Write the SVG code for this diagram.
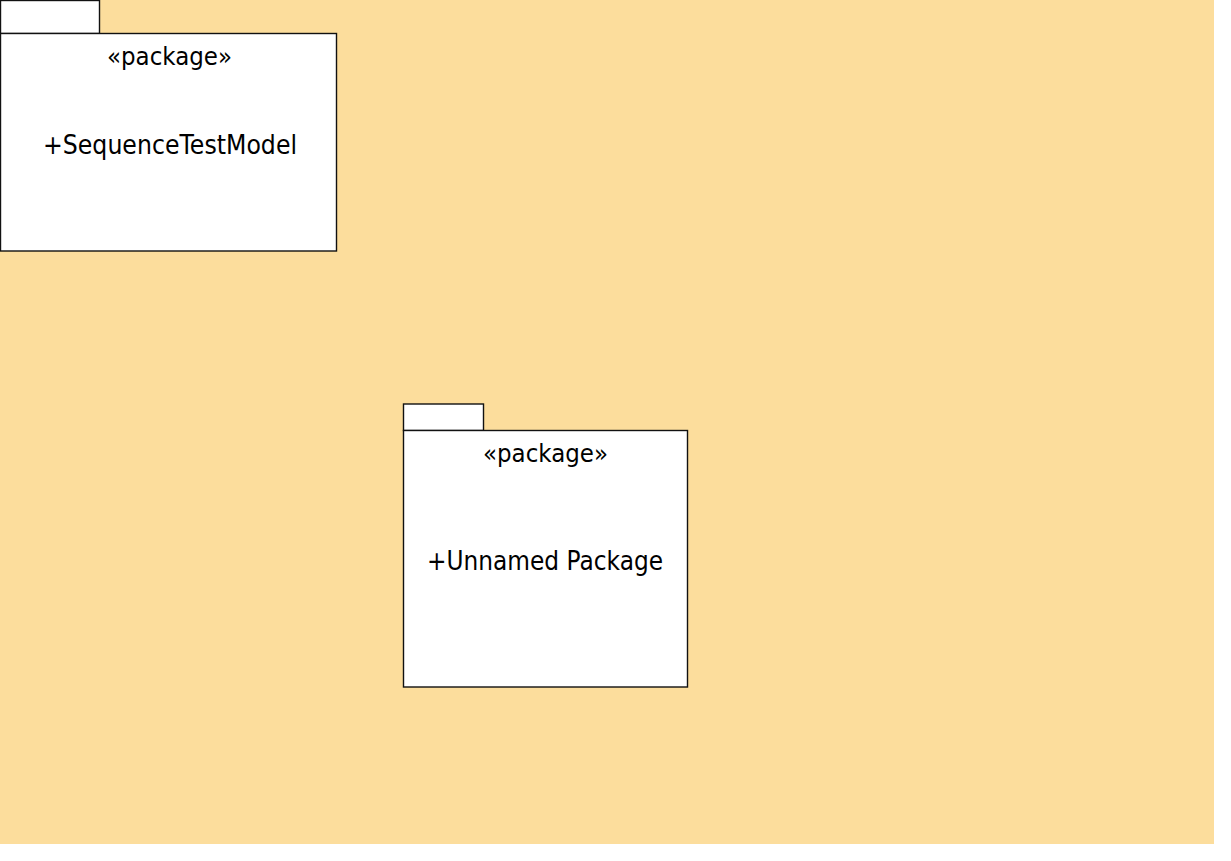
<svg xmlns="http://www.w3.org/2000/svg" width="1231" height="861" viewBox="0 0 1231 861">
<style>
.shape{fill:#ffffff;stroke:#111111;stroke-width:1.4}
.st{font-family:"DejaVu Sans","Liberation Sans",sans-serif;font-size:24px;fill:#000;text-anchor:middle}
.nm{font-family:"DejaVu Sans","Liberation Sans",sans-serif;font-size:26px;fill:#000;text-anchor:middle}
</style>
<rect x="0" y="0" width="1231" height="861" fill="#ffffff"/>
<rect x="0" y="0" width="1214" height="844" fill="#FCDD9C"/>
<g id="connectors"></g>
<g id="pkg-sequencetestmodel">
<rect class="shape" x="0.5" y="0.5" width="99" height="33"/>
<rect class="shape" x="0.5" y="33.5" width="336" height="217.5"/>
<text class="st" x="169.5" y="65" textLength="125" lengthAdjust="spacingAndGlyphs">«package»</text>
<text class="nm" x="170" y="154" textLength="254" lengthAdjust="spacingAndGlyphs">+SequenceTestModel</text>
</g>
<g id="pkg-unnamed">
<rect class="shape" x="403.5" y="404" width="80" height="26.5"/>
<rect class="shape" x="403.5" y="430.5" width="284" height="256.5"/>
<text class="st" x="545.5" y="462" textLength="125" lengthAdjust="spacingAndGlyphs">«package»</text>
<text class="nm" x="545" y="570" textLength="236" lengthAdjust="spacingAndGlyphs">+Unnamed Package</text>
</g>
</svg>
